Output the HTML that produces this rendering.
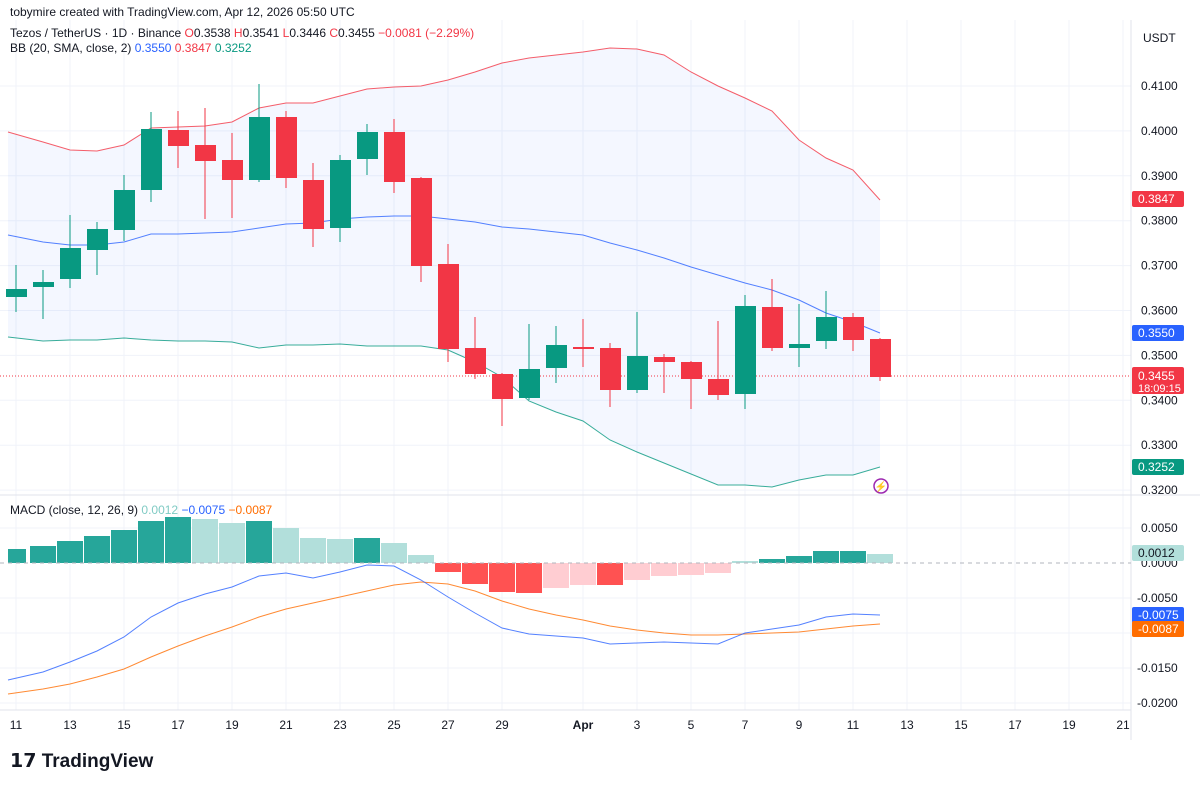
<!DOCTYPE html>
<html><head><meta charset="utf-8"><style>
body{margin:0;background:#fff;width:1200px;height:785px;overflow:hidden;font-family:"Liberation Sans",sans-serif}
svg{position:absolute;left:0;top:0}
</style></head><body>
<svg id="s" width="1200" height="785" xmlns="http://www.w3.org/2000/svg" font-family="Liberation Sans, sans-serif"></svg>
<script>
const S=document.getElementById('s');let h='';
const G='#089981',R='#F23645';
for(let i=0;i<10;i++){let y=86+i*44.9;h+=`<line x1="0" x2="1131" y1="${y}" y2="${y}" stroke="#f0f3fa"/>`;}
[528,598,633,668,703].forEach(y=>h+=`<line x1="0" x2="1131" y1="${y}" y2="${y}" stroke="#f0f3fa"/>`);
const dl=[['11',16],['13',70],['15',124],['17',178],['19',232],['21',286],['23',340],['25',394],['27',448],['29',502],['Apr',583],['3',637],['5',691],['7',745],['9',799],['11',853],['13',907],['15',961],['17',1015],['19',1069],['21',1123]];
dl.forEach(([d,x])=>{h+=`<line x1="${x}" x2="${x}" y1="20" y2="710" stroke="#f0f3fa"/><text x="${x}" y="729" font-size="12" fill="#131722" text-anchor="middle" ${d=='Apr'?'font-weight="bold"':''}>${d}</text>`;});
const xs=[];for(let i=0;i<33;i++)xs.push(16+i*27);
const up=[132,142,150,151,145,128,127,126,122,108,103,103,96,89,87,86,80,72,63,58,55,52,48,49,55,72,86,98,111,140,158,170,200];
const md=[235,242,245,245,242,234,234,233,232,228,224,223,219,217,216,216,219,222,227,229,232,235,243,250,258,267,275,283,290,300,313,322,333];
const lo=[337,341,340,340,338,340,341,341,342,348,345,345,344,346,346,346,350,362,377,401,412,421,440,452,463,474,485,485,487,480,475,475,467];
const X=i=>i==0?8:xs[i];
const pl=a=>a.map((y,i)=>X(i)+','+y).join(' ');
h+=`<polygon points="${pl(up)} ${lo.map((y,i)=>X(i)+','+y).reverse().join(' ')}" fill="#2962FF" fill-opacity="0.05"/>`;
h+=`<polyline points="${pl(up)}" fill="none" stroke="#F23645" stroke-opacity="0.8"/>`;
h+=`<polyline points="${pl(md)}" fill="none" stroke="#2962FF" stroke-opacity="0.8"/>`;
h+=`<polyline points="${pl(lo)}" fill="none" stroke="#089981" stroke-opacity="0.8"/>`;
h+=`<line x1="0" x2="1131" y1="376" y2="376" stroke="#F23645" stroke-dasharray="1,2"/>`;
const c=[[289,297,265,312,1],[282,287,270,319,1],[248,279,215,288,1],[229,250,222,275,1],[190,230,175,241,1],[129,190,112,202,1],[130,146,111,168,0],[145,161,108,219,0],[160,180,133,218,0],[117,180,84,182,1],[117,178,111,188,0],[180,229,163,247,0],[160,228,155,242,1],[132,159,124,175,1],[132,182,119,193,0],[178,266,177,282,0],[264,349,244,362,0],[348,374,317,379,0],[374,399,373,426,0],[369,398,324,400,1],[345,368,326,383,1],[347,349,319,367,0],[348,390,343,407,0],[356,390,312,393,1],[357,362,354,393,0],[362,379,361,409,0],[379,395,321,400,0],[306,394,295,409,1],[307,348,279,351,0],[344,348,304,367,1],[317,341,291,349,1],[317,340,313,351,0],[339,377,338,381,0]];
c.forEach((k,i)=>{let x=xs[i],col=k[4]?G:R;h+=`<line x1="${x}" x2="${x}" y1="${k[2]}" y2="${k[3]}" stroke="${col}"/><rect x="${x-10}" y="${k[0]}" width="21" height="${Math.max(2,k[1]-k[0])}" fill="${col}"/>`;});
h+=`<line x1="0" x2="1200" y1="495" y2="495" stroke="#e0e3eb"/>`;
h+=`<line x1="1131" x2="1131" y1="20" y2="740" stroke="#e0e3eb"/>`;
h+=`<line x1="0" x2="1131" y1="710" y2="710" stroke="#e0e3eb"/>`;
const ht=[549,546,541,536,530,521,517,519,523,521,528,538,539,538,543,555,572,584,592,593,588,585,585,580,576,575,573,561,559,556,551,551,554];
const hc=['d','d','d','d','d','d','d','l','l','d','l','l','l','d','l','l','r','r','r','r','q','q','r','q','q','q','q','l','d','d','d','d','l'];
const cm={d:'#26a69a',l:'#b2dfdb',r:'#ff5252',q:'#ffcdd2'};
ht.forEach((y,i)=>{let x=xs[i]-13;let t=Math.min(y,563),b=Math.max(y,563);h+=`<rect x="${i==0?8:x}" y="${t}" width="${i==0?18:26}" height="${b-t}" fill="${cm[hc[i]]}"/>`;});
h+=`<line x1="0" x2="1131" y1="563" y2="563" stroke="#b2b5be" stroke-dasharray="4,4"/>`;
const mb=[680,672,662,651,637,617,603,594,587,576,573,578,572,565,566,580,597,613,628,634,636,638,644,643,642,643,644,633,629,625,617,614,615];
const ms=[694,689,684,677,669,657,646,636,627,617,609,603,597,591,585,582,584,591,601,609,615,620,626,630,633,635,635,634,633,632,629,626,624];
h+=`<polyline points="${pl(ms)}" fill="none" stroke="#FF6D00" stroke-opacity="0.8"/>`;
h+=`<polyline points="${pl(mb)}" fill="none" stroke="#2962FF" stroke-opacity="0.8"/>`;
const pt=['0.4100','0.4000','0.3900','0.3800','0.3700','0.3600','0.3500','0.3400','0.3300','0.3200'];
pt.forEach((t,i)=>{let y=86+i*44.9;h+=`<text x="1141" y="${y+4}" font-size="12" fill="#131722">${t}</text>`;});
[['0.0050',528],['0.0000',563],['-0.0050',598],['-0.0150',668],['-0.0200',703]].forEach(a=>h+=`<text x="${a[0][0]=='-'?1137:1141}" y="${a[1]+4}" font-size="12" fill="#131722">${a[0]}</text>`);
const lab=(y,t,bg,fg)=>h+=`<rect x="1132" y="${y-8}" width="52" height="16" rx="2" fill="${bg}"/><text x="1138" y="${y+4}" font-size="12" fill="${fg||'#fff'}">${t}</text>`;
lab(199,'0.3847',R);lab(333,'0.3550','#2962FF');
h+=`<rect x="1132" y="367" width="52" height="27" rx="2" fill="${R}"/><text x="1138" y="380" font-size="12" fill="#fff">0.3455</text><text x="1138" y="392" font-size="11" fill="#fff">18:09:15</text>`;
lab(467,'0.3252',G);lab(553,'0.0012','#b2dfdb','#131722');lab(615,'-0.0075','#2962FF');lab(629,'-0.0087','#FF6D00');
h+=`<text x="1143" y="42" font-size="12" fill="#131722">USDT</text>`;
h+=`<circle cx="881" cy="486" r="7" fill="none" stroke="#9c27b0" stroke-width="1.5"/><text x="881" y="490" font-size="10" fill="#9c27b0" text-anchor="middle">⚡</text>`;
h+=`<text x="10" y="16" font-size="12" fill="#131722">tobymire created with TradingView.com, Apr 12, 2026 05:50 UTC</text>`;
h+=`<text x="10" y="37" font-size="12" fill="#131722">Tezos / TetherUS · 1D · Binance <tspan fill="${R}"> O</tspan><tspan>0.3538 </tspan><tspan fill="${R}">H</tspan>0.3541 <tspan fill="${R}">L</tspan>0.3446 <tspan fill="${R}">C</tspan>0.3455 <tspan fill="${R}">−0.0081 (−2.29%)</tspan></text>`;
h+=`<text x="10" y="52" font-size="12" fill="#131722">BB (20, SMA, close, 2) <tspan fill="#2962FF">0.3550</tspan> <tspan fill="${R}">0.3847</tspan> <tspan fill="${G}">0.3252</tspan></text>`;
h+=`<text x="10" y="514" font-size="12" fill="#131722">MACD (close, 12, 26, 9) <tspan fill="#80cbc4">0.0012</tspan> <tspan fill="#2962FF">−0.0075</tspan> <tspan fill="#FF6D00">−0.0087</tspan></text>`;
h+=`<text x="10" y="767" font-size="19" font-weight="bold" fill="#131722">𝟭𝟳 TradingView</text>`;
S.innerHTML=h;
</script>
</body></html>
